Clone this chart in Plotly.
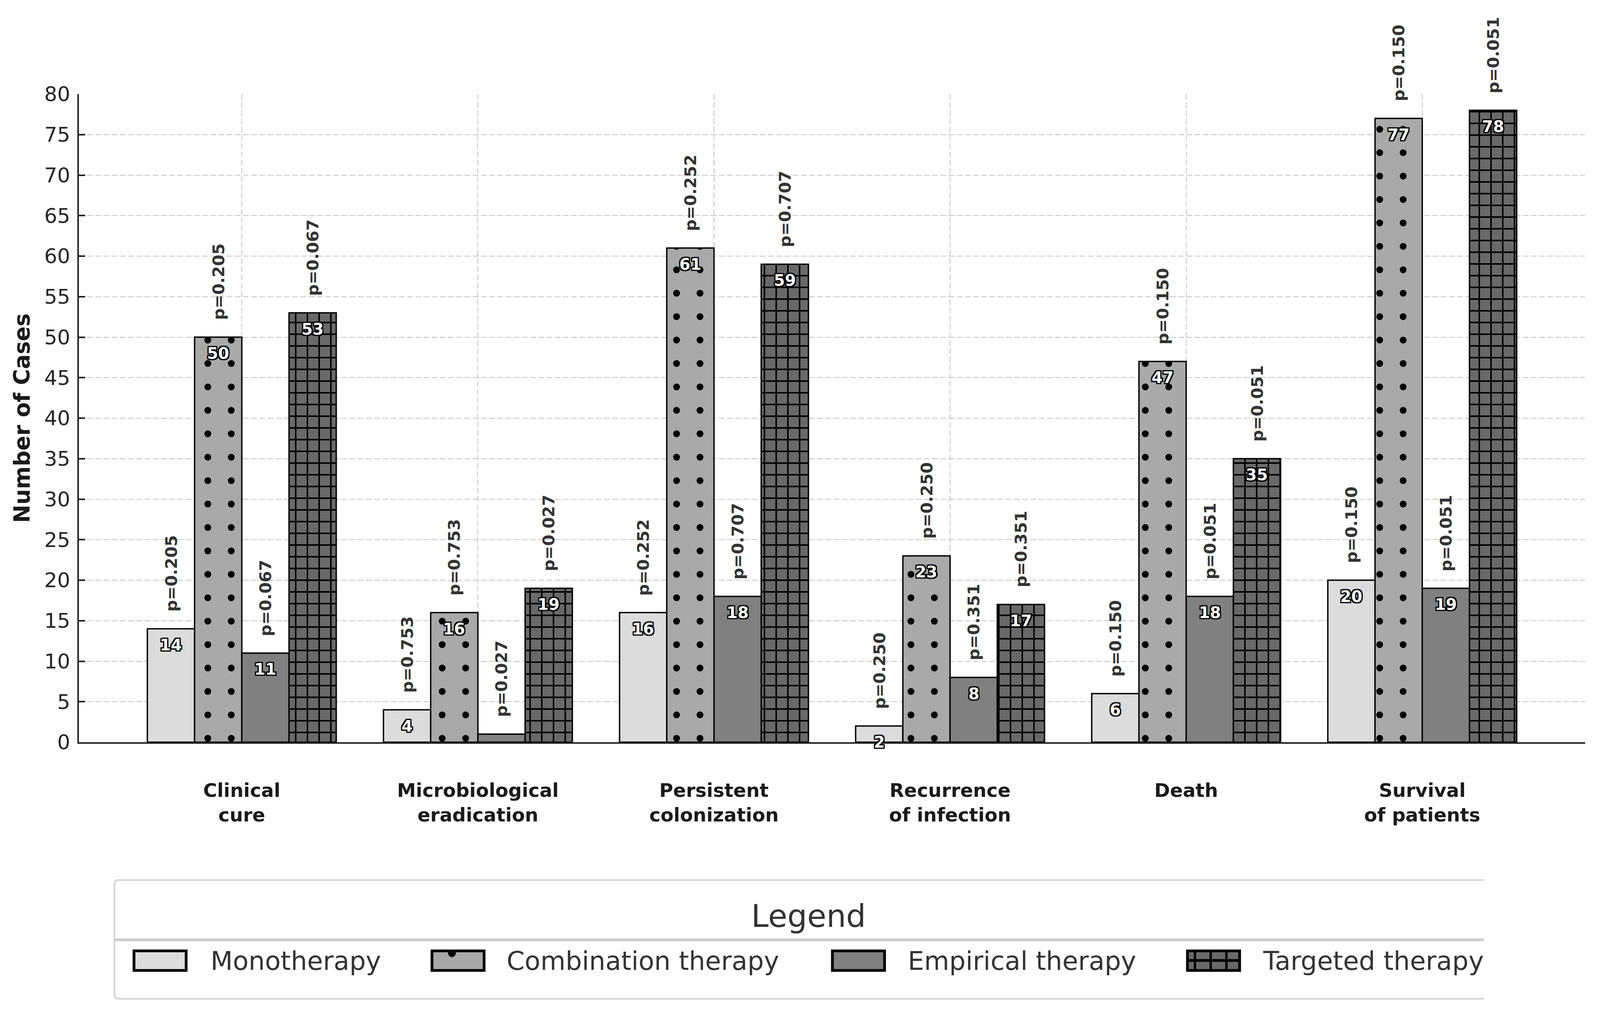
import plotly.graph_objects as go

# Data
categories = ["Clinical cure", "Microbiological eradication", "Persistent colonization",
              "Recurrence of infection", "Death", "Survival of patients"]
tick_labels = ["Clinical<br>cure", "Microbiological<br>eradication", "Persistent<br>colonization",
               "Recurrence<br>of infection", "Death", "Survival<br>of patients"]

series_names = ["Monotherapy", "Combination therapy", "Empirical therapy", "Targeted therapy"]
monotherapy = [14, 4, 16, 2, 6, 20]
combination = [50, 16, 61, 23, 47, 77]
empirical = [11, 1, 18, 8, 18, 19]
targeted = [53, 19, 59, 17, 35, 78]

p_mono = ["0.205", "0.753", "0.252", "0.250", "0.150", "0.150"]
p_comb = ["0.205", "0.753", "0.252", "0.250", "0.150", "0.150"]
p_emp = ["0.067", "0.027", "0.707", "0.351", "0.051", "0.051"]
p_targ = ["0.067", "0.027", "0.707", "0.351", "0.051", "0.051"]

# page is 4096 wide in the browser, layout measured on a 4372x2592 reference
RW, RH = 4372, 2592
W, H = 4096, 2592
SX = W / RW
FS = 0.968  # font scale
RL, RR, RT, RB = 216, 41, 241, 691  # plot area margins on the reference
FONT = "DejaVu Sans"

colors = ["#dcdcdc", "#a9a9a9", "#808080", "#696969"]
patterns = [
    None,
    dict(shape=".", fgcolor="black", bgcolor="#a9a9a9", size=60, solidity=0.066, fillmode="replace"),
    None,
    dict(shape="+", fgcolor="black", bgcolor="#696969", size=30, solidity=0.24, fillmode="replace"),
]
values = [monotherapy, combination, empirical, targeted]
pvals = [p_mono, p_comb, p_emp, p_targ]
offsets = [-0.3, -0.1, 0.1, 0.3]
OUTLINE = ", ".join(f"{dx}px {dy}px 0 #000" for dx in (-3, 0, 3) for dy in (-3, 0, 3) if dx or dy)


def px(x):
    # reference x pixel -> paper fraction
    return (x - RL) / (RW - RL - RR)


def py(y):
    # reference y pixel -> paper fraction
    return (RH - RB - y) / (RH - RT - RB)


def fs(size):
    return round(size * FS, 1)


fig = go.Figure()
for name, vals, col, pat in zip(series_names, values, colors, patterns):
    marker = dict(color=col, line=dict(color="black", width=3.5))
    if pat:
        marker["pattern"] = pat
    fig.add_trace(go.Bar(x=categories, y=vals, name=name, marker=marker, showlegend=False))

annotations = []
for j, (vals, ps) in enumerate(zip(values, pvals)):
    for i, (v, p) in enumerate(zip(vals, ps)):
        xpos = i + offsets[j]
        # value inside the bar top
        annotations.append(dict(
            x=xpos, y=v - 2, xref="x", yref="y", text=str(v), showarrow=False,
            xanchor="center", yanchor="middle",
            font=dict(family=FONT, size=fs(42), color="white", weight="bold", shadow=OUTLINE)))
        # p-value above the bar
        annotations.append(dict(
            x=xpos, y=v + 2, xref="x", yref="y", text=f"p={p}", showarrow=False,
            textangle=-90, xanchor="center", yanchor="bottom",
            font=dict(family=FONT, size=fs(43), color="#333333", weight="bold")))

# legend drawn by hand (box, title, keys, labels)
shapes = []
shapes.append(dict(type="path", xref="paper", yref="paper",
                   path=f"M{px(4054)},{py(2254)} H{px(325)} Q{px(313)},{py(2254)} {px(313)},{py(2266)} "
                        f"V{py(2546)} Q{px(313)},{py(2558)} {px(325)},{py(2558)} H{px(4054)}",
                   line=dict(color="#d6d6d6", width=4.5)))
shapes.append(dict(type="line", xref="paper", yref="paper", x0=px(313), x1=px(4054), y0=py(2407), y1=py(2407),
                   line=dict(color="#cccccc", width=7)))
annotations.append(dict(x=px(2209), y=py(2346), xref="paper", yref="paper", text="Legend", showarrow=False,
                        xanchor="center", yanchor="middle", font=dict(family=FONT, size=80, color="#333333")))

key_x = [363, 1177, 2271, 3241]
text_x = [573, 1382, 2478, 3448]
for name, col, kx, tx in zip(series_names, colors, key_x, text_x):
    shapes.append(dict(type="rect", xref="paper", yref="paper",
                       x0=px(kx + 3.5), x1=px(kx + 146), y0=py(2435.5), y1=py(2485.5),
                       fillcolor=col, line=dict(color="black", width=7)))
    annotations.append(dict(x=px(tx), y=py(2461), xref="paper", yref="paper", text=name, showarrow=False,
                            xanchor="left", yanchor="middle", font=dict(family=FONT, size=66, color="#333333")))
# hatch hints inside the keys
shapes.append(dict(type="path", xref="paper", yref="paper",
                   path=f"M{px(1224)},{py(2438)} C{px(1224)},{py(2456)} {px(1246)},{py(2456)} {px(1246)},{py(2438)} Z",
                   fillcolor="black", line=dict(width=0)))
for gx in (3265, 3308, 3351):
    shapes.append(dict(type="line", xref="paper", yref="paper", x0=px(gx), x1=px(gx), y0=py(2438), y1=py(2483),
                       line=dict(color="black", width=6)))
shapes.append(dict(type="line", xref="paper", yref="paper", x0=px(3245), x1=px(3388), y0=py(2460), y1=py(2460),
                   line=dict(color="black", width=7)))

fig.update_layout(
    width=W, height=H,
    margin=dict(l=RL * SX, r=RR * SX, t=RT, b=RB, autoexpand=False),
    paper_bgcolor="white", plot_bgcolor="white",
    barmode="group", bargap=0.2, bargroupgap=0,
    font=dict(family=FONT, color="#262626"),
    annotations=annotations, shapes=shapes,
    xaxis=dict(
        type="category", range=[-0.69, 5.69],
        tickvals=categories, ticktext=tick_labels,
        tickfont=dict(family=FONT, size=fs(50), color="#1a1a1a", weight="bold"),
        ticks="", ticklabelstandoff=78,
        showline=True, linecolor="#222222", linewidth=3.5,
        showgrid=True, gridcolor="#c4c4c4", gridwidth=2.2, griddash="15px,6px",
    ),
    yaxis=dict(
        range=[0, 80], dtick=5, tick0=0,
        tickfont=dict(family=FONT, size=fs(54), color="#262626"),
        ticks="inside", ticklen=16, tickwidth=3.5, tickcolor="#222222", ticklabelstandoff=8,
        showline=True, linecolor="#222222", linewidth=3.5, zeroline=False,
        showgrid=True, gridcolor="#c4c4c4", gridwidth=2.2, griddash="15px,6px",
        title=dict(text="Number of Cases", standoff=20,
                   font=dict(family=FONT, size=fs(58), color="#1a1a1a", weight="bold")),
    ),
)

fig.write_html("out.html", config={"displayModeBar": False},
               post_script="document.body.style.margin='0';")
